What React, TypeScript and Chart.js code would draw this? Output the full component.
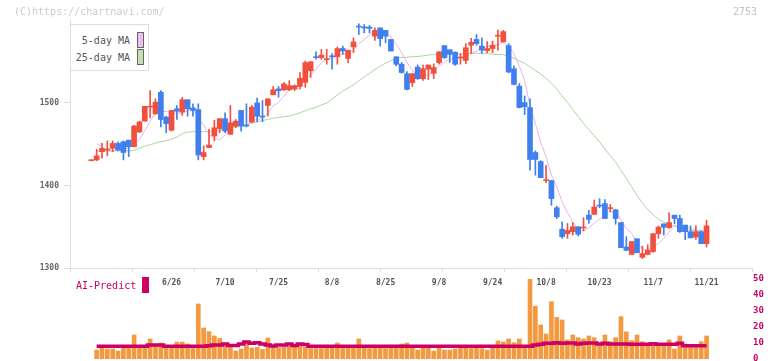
import React, { useEffect, useRef } from 'react';
import { Chart, registerables } from 'chart.js';
Chart.register(...registerables);

// ---- categories (trading days, 2025) ----
const dates = [
  '6/5','6/6','6/9','6/10','6/11','6/12','6/13','6/16','6/17','6/18','6/19','6/20','6/23','6/24','6/25','6/26','6/27','6/30',
  '7/1','7/2','7/3','7/4','7/7','7/8','7/9','7/10','7/11','7/14','7/15','7/16','7/17','7/18','7/22','7/23','7/24','7/25','7/28','7/29','7/30','7/31',
  '8/1','8/4','8/5','8/6','8/7','8/8','8/12','8/13','8/14','8/15','8/18','8/19','8/20','8/21','8/22','8/25','8/26','8/27','8/28','8/29',
  '9/1','9/2','9/3','9/4','9/5','9/8','9/9','9/10','9/11','9/12','9/16','9/17','9/18','9/19','9/22','9/24','9/25','9/26','9/29','9/30',
  '10/1','10/2','10/3','10/6','10/7','10/8','10/9','10/10','10/14','10/15','10/16','10/17','10/20','10/21','10/22','10/23','10/24','10/27','10/28','10/29','10/30','10/31',
  '11/4','11/5','11/6','11/7','11/10','11/11','11/12','11/13','11/14','11/17','11/18','11/19','11/20','11/21',
];

// ---- OHLC ----
const opens = [
  1430, 1431, 1441, 1443, 1445, 1451, 1453, 1455, 1447, 1465,
  1478, 1495, 1487, 1513, 1483, 1467, 1493, 1489, 1504, 1494,
  1492, 1435, 1446, 1460, 1469, 1481, 1462, 1472, 1491, 1473,
  1477, 1500, 1483.5, 1497, 1510, 1517, 1516, 1516, 1517, 1520,
  1525, 1539, 1555.5, 1555, 1552.5, 1557, 1556, 1566, 1554, 1568,
  1592.5, 1592, 1592, 1581, 1591, 1588, 1577, 1556, 1547, 1535.5,
  1524.5, 1543.5, 1529.5, 1541, 1536, 1549, 1569.5, 1564.5, 1561.5, 1554.5,
  1551.5, 1570, 1577, 1569, 1563.5, 1566, 1581, 1574, 1569.5, 1541.5,
  1520.5, 1500.5, 1494.5, 1440, 1429, 1406, 1406, 1373, 1347, 1341.5,
  1344, 1350, 1348.5, 1364, 1365, 1376, 1378, 1372, 1370.5, 1355,
  1325.5, 1316.5, 1335.5, 1313, 1316.5, 1320, 1341.5, 1353.5, 1349, 1364,
  1360, 1352, 1344, 1337.5, 1344, 1329.5,
];
const highs = [
  1431, 1444, 1451, 1454, 1454, 1453, 1454, 1455, 1473, 1478,
  1496, 1515, 1505, 1515, 1484, 1491, 1497, 1507, 1504, 1499,
  1499, 1448, 1468, 1479, 1481, 1488, 1497, 1480, 1491, 1499,
  1497, 1506, 1503, 1505, 1520, 1520, 1525, 1527, 1522, 1537,
  1551, 1550, 1562, 1565, 1565, 1560, 1568, 1569, 1564, 1579,
  1596, 1595, 1594, 1591, 1591, 1588, 1577, 1556, 1549, 1538,
  1535.5, 1546, 1546, 1546, 1547.5, 1562, 1569.5, 1564.5, 1562, 1560,
  1572, 1578.5, 1583, 1579, 1574.5, 1575, 1588.5, 1588, 1572, 1545,
  1523.5, 1508.5, 1505, 1442, 1430, 1424.5, 1406, 1375, 1356, 1354,
  1355, 1350, 1361, 1370, 1382.5, 1384, 1383, 1377, 1371, 1355,
  1338, 1332, 1335.5, 1326.5, 1328, 1342, 1351, 1353.5, 1367, 1364,
  1364, 1352, 1351, 1351, 1345, 1358,
];
const lows = [
  1430, 1430, 1433, 1436, 1441, 1442, 1431, 1435, 1447, 1464,
  1478, 1482, 1486, 1471, 1464, 1466, 1480, 1485, 1484, 1484,
  1431, 1431, 1446, 1454, 1464, 1464, 1462, 1470, 1466, 1471,
  1476, 1477, 1477, 1484, 1510, 1507, 1515, 1515, 1515, 1517,
  1519, 1531, 1553, 1553, 1547, 1541, 1547, 1559, 1549, 1561,
  1583, 1585, 1585, 1576, 1569, 1573, 1563, 1545, 1536, 1516,
  1520, 1528.5, 1527.5, 1528.5, 1529.5, 1547, 1554, 1549, 1545.5, 1547,
  1547.5, 1560, 1570, 1560, 1561, 1561, 1564, 1574, 1536.5, 1522,
  1494, 1486, 1418.5, 1412.5, 1409.5, 1403.5, 1376, 1360, 1336, 1336,
  1340, 1339, 1345, 1354, 1365, 1373, 1360, 1368, 1353, 1324.5,
  1321, 1316.5, 1318.5, 1311.5, 1316, 1319, 1336, 1340, 1348, 1353.5,
  1343, 1334.5, 1336.5, 1334.5, 1329.5, 1325.5,
];
const closes = [
  1431, 1436, 1445, 1444, 1451, 1443, 1440, 1447, 1472, 1477,
  1496, 1496, 1501, 1480, 1475, 1491, 1490, 1504, 1493, 1491,
  1437, 1440, 1449, 1470, 1481, 1466, 1476, 1478, 1472, 1472,
  1495, 1484, 1483, 1505, 1516, 1515, 1523, 1521, 1521, 1530,
  1549, 1550, 1555, 1558, 1553, 1556, 1566, 1563, 1564, 1574,
  1592, 1591, 1590.5, 1588, 1578, 1581, 1563, 1547, 1537, 1516.5,
  1535.5, 1529.5, 1541.5, 1546, 1543, 1562, 1555, 1559, 1547, 1555,
  1567, 1573.5, 1572, 1564, 1566, 1570, 1581.5, 1586.5, 1537.5, 1522.5,
  1494.5, 1495.5, 1431.5, 1431.5, 1409.5, 1406.5, 1384, 1362, 1338, 1345.5,
  1350, 1341, 1349, 1359, 1374, 1375, 1360, 1372.5, 1360, 1324.5,
  1321.5, 1332, 1318.5, 1317.5, 1321.5, 1341.5, 1349.5, 1349.5, 1355, 1360,
  1344, 1344, 1336.5, 1344, 1329.5, 1351,
];

// moving-average values before enough closes are in view
const ma5Head = [null, 1450.6, 1446.2, 1442.5];
const ma25Head = [
  null, 1441.3, 1441.7, 1442.1, 1442.1, 1442.1, 1442.1, 1442.1, 1442.5, 1445.4,
  1447.8, 1449.4, 1451.4, 1453.1, 1454.3, 1456.3, 1458.7, 1462.8, 1464.8, 1465.2,
  1465.2, 1465.2, 1465.2, 1465.6,
];

// ---- volume panel ----
const volumes = [
  null, 5.6, 7.1, 6.25, 6.25, 5, 7.3, 7.3, 15, 7.3,
  7.3, 12.5, 9.2, 10, 8.1, 8.1, 10.6, 10.6, 9.4, 7.3,
  34.4, 19.4, 17.1, 14.4, 12.9, 9.4, 8.75, 5, 6.25, 9,
  6.9, 7.3, 6, 13.1, 8.5, 7.1, 7.5, 7.9, 7.3, 8.5,
  7.3, 6.5, 6.5, 6.5, 7.3, 7.3, 10, 7.3, 7.3, 7.3,
  12.5, 7.3, 6.5, 7.3, 7.3, 6.5, 7.3, 7.3, 9.4, 10,
  7.3, 5.6, 7.3, 7.3, 5, 7.3, 5.6, 5.6, 6.25, 7.3,
  7.3, 6.5, 7.3, 6.5, 5.6, 7.3, 11.3, 10.6, 12.5, 10.2,
  12.5, 7.3, 50, 33, 21.3, 15.6, 35.8, 26, 24.4, 11.9,
  15, 13.3, 12.5, 14.4, 13.3, 9.8, 15, 10.8, 13.3, 26.5,
  17, 11.5, 15, 10.8, 8.75, 9.8, 9.4, 8.1, 11.9, 6.25,
  14.4, 9.4, 8.1, 8.1, 10.8, 14.4,
];
const aiPredict = [
  null, 7.9, 7.9, 7.9, 7.9, 7.9, 7.9, 7.9, 7.9, 7.9,
  7.9, 8.75, 8.75, 8.75, 7.9, 7.9, 7.9, 7.9, 7.9, 7.9,
  7.9, 7.9, 8.3, 8.75, 8.75, 9.4, 8.5, 8.5, 9.4, 10.6,
  9.8, 10.2, 9.4, 8.75, 8.1, 8.75, 8.75, 9.4, 8.5, 9.4,
  9, 7.9, 7.9, 7.9, 7.9, 7.9, 7.9, 7.9, 7.9, 7.9,
  7.9, 7.9, 7.9, 7.9, 7.9, 7.9, 7.9, 7.9, 7.9, 7.9,
  7.9, 7.9, 7.9, 7.9, 7.9, 7.9, 7.9, 7.9, 7.9, 7.9,
  7.9, 7.9, 7.9, 7.9, 7.9, 7.9, 7.9, 7.9, 7.9, 7.9,
  7.9, 7.9, 7.9, 8.75, 9.2, 9.8, 9.8, 10.2, 9.8, 10,
  10, 9.4, 9.8, 10, 10, 9.4, 9.8, 9.4, 9.4, 9.4,
  9.4, 9.2, 9.2, 9.2, 9.2, 9.6, 9.2, 9.2, 9.2, 9.2,
  9.8, 8.3, 8.3, 8.3, 8.3, 8.3,
];

const priceTicks = [1300, 1400, 1500];
const volumeTicks = [0, 10, 20, 30, 40, 50];
const dateLabelIdx = [15, 25, 35, 45, 55, 65, 75, 85, 95, 105, 115];

const X_MIN = -3.98;
const X_MAX = 123.49;
const Y_MIN = 1300;
const Y_MAX = 1600.6;
const UP = '#f2503f';
const DOWN = '#3f7ff0';
const MONO = '"DejaVu Sans Mono", monospace';

// canvas placement (page pixels)
const PRICE_H = 292;          // price canvas 0..292, plot bottom at 268
const VOL_TOP = 262;          // volume canvas top
const VOL_H = 115;            // plot 279..359

function movingAverage(vals: number[], period: number, head: (number | null)[]) {
  return vals.map((_, i) => {
    if (i < period - 1) return head[i];
    let s = 0;
    for (let k = i - period + 1; k <= i; k++) s += vals[k];
    return s / period;
  });
}

export default function App() {
  const priceRef = useRef<HTMLCanvasElement>(null);
  const volRef = useRef<HTMLCanvasElement>(null);

  useEffect(() => {
    const colors = closes.map((c, i) => (c >= opens[i] ? UP : DOWN));
    const ma5 = movingAverage(closes, 5, ma5Head);
    const ma25 = movingAverage(closes, 25, ma25Head);

    const price = new Chart(priceRef.current!, {
      type: 'bar',
      data: {
        datasets: [
          {
            type: 'line',
            data: ma25.map((v, i) => ({ x: i, y: v })),
            borderColor: '#a9d69c',
            borderWidth: 1,
            pointRadius: 0,
            order: 4,
          } as any,
          {
            type: 'line',
            data: ma5.map((v, i) => ({ x: i, y: v })),
            borderColor: '#eab4ea',
            borderWidth: 1,
            pointRadius: 0,
            order: 3,
          } as any,
          {
            type: 'bar',
            data: lows.map((l, i) => ({ x: i, y: [l, highs[i]] })),
            backgroundColor: colors,
            barThickness: 1,
            grouped: false,
            minBarLength: 1,
            order: 2,
          } as any,
          {
            type: 'bar',
            data: opens.map((o, i) => ({ x: i, y: [o, closes[i]] })),
            backgroundColor: colors,
            barThickness: 5,
            grouped: false,
            minBarLength: 1,
            order: 1,
          } as any,
        ],
      },
      options: {
        animation: false,
        responsive: false,
        layout: { padding: { top: 20, right: 20, left: 0, bottom: 0 } },
        plugins: { legend: { display: false }, tooltip: { enabled: false } },
        scales: {
          x: {
            type: 'linear',
            offset: false,
            min: X_MIN,
            max: X_MAX,
            afterBuildTicks: (s: any) => {
              const step = (X_MAX - X_MIN) / 11;
              s.ticks = Array.from({ length: 12 }, (_, k) => ({ value: X_MIN + k * step }));
            },
            afterFit: (s: any) => { s.height = PRICE_H - 268; },
            grid: { drawOnChartArea: false, offset: false, color: '#dddddd', tickLength: 4 },
            border: { color: '#dddddd' },
            ticks: { display: false },
          },
          y: {
            min: Y_MIN,
            max: Y_MAX,
            afterBuildTicks: (s: any) => { s.ticks = priceTicks.map((v) => ({ value: v })); },
            afterFit: (s: any) => { s.width = 70; },
            grid: { drawOnChartArea: false, color: '#dddddd', tickLength: 6 },
            border: { color: '#dddddd' },
            ticks: {
              color: '#666666',
              padding: 5,
              font: { family: MONO, size: 8, weight: 'bold' },
              callback: (v: any) => String(v),
            },
          },
        },
      } as any,
    });

    const dateLabels = {
      id: 'dateLabels',
      afterDraw(chart: any) {
        const ctx = chart.ctx;
        const xs = chart.scales.x;
        ctx.save();
        ctx.font = `bold 8px ${MONO}`;
        ctx.fillStyle = '#555555';
        ctx.textAlign = 'center';
        ctx.textBaseline = 'middle';
        dateLabelIdx.forEach((i) => {
          ctx.fillText(dates[i], xs.getPixelForValue(i), 283 - VOL_TOP);
        });
        ctx.restore();
      },
    };

    const vol = new Chart(volRef.current!, {
      type: 'bar',
      data: {
        datasets: [
          {
            type: 'line',
            data: aiPredict.map((v, i) => ({ x: i, y: v })),
            borderColor: '#cc0066',
            borderWidth: 3.5,
            pointRadius: 0,
            stepped: 'middle',
            order: 0,
          } as any,
          {
            type: 'bar',
            data: volumes.map((v, i) => ({ x: i, y: v })),
            backgroundColor: '#f39a40',
            barThickness: 4,
            order: 1,
          } as any,
        ],
      },
      options: {
        animation: false,
        responsive: false,
        layout: { padding: { top: 279 - VOL_TOP, right: 0, left: 70, bottom: VOL_TOP + VOL_H - 359 } },
        plugins: { legend: { display: false }, tooltip: { enabled: false } },
        scales: {
          x: { type: 'linear', offset: false, min: X_MIN, max: X_MAX, display: false },
          y: {
            position: 'right',
            min: 0,
            max: 50,
            afterBuildTicks: (s: any) => { s.ticks = volumeTicks.map((v) => ({ value: v })); },
            afterFit: (s: any) => { s.width = 20; },
            grid: { display: false, drawTicks: false },
            border: { display: false },
            ticks: {
              color: '#cc0066',
              padding: 1,
              font: { family: MONO, size: 9, weight: 'bold' },
            },
          },
        },
      } as any,
      plugins: [dateLabels],
    });

    return () => {
      price.destroy();
      vol.destroy();
    };
  }, []);

  const mono: React.CSSProperties = { fontFamily: MONO, fontSize: 10, lineHeight: '12px', position: 'absolute', whiteSpace: 'nowrap' };

  return (
    <div style={{ position: 'absolute', left: 0, top: 0, width: 772, height: 361, background: '#ffffff', overflow: 'hidden' }}>
      <canvas ref={volRef} width={772} height={VOL_H} style={{ position: 'absolute', left: 0, top: VOL_TOP }} />
      <canvas ref={priceRef} width={772} height={PRICE_H} style={{ position: 'absolute', left: 0, top: 0 }} />
      <div style={{ ...mono, left: 14, top: 6, color: '#cccccc' }}>(C)https://chartnavi.com/</div>
      <div style={{ ...mono, left: 733, top: 6, color: '#c4c4c4' }}>2753</div>
      <div style={{ position: 'absolute', left: 70, top: 24, width: 79, height: 47, boxSizing: 'border-box', border: '1px solid #dddddd', background: '#ffffff' }}>
        <div style={{ ...mono, right: 18, top: 10, color: '#555555' }}>5-day MA</div>
        <div style={{ ...mono, right: 18, top: 27, color: '#555555' }}>25-day MA</div>
        <div style={{ position: 'absolute', left: 66, top: 7, width: 7, height: 16, boxSizing: 'border-box', border: '1.5px solid #666666', background: '#efc0ef' }} />
        <div style={{ position: 'absolute', left: 66, top: 24, width: 7, height: 16, boxSizing: 'border-box', border: '1.5px solid #666666', background: '#c0e0b0' }} />
      </div>
      <div style={{ ...mono, left: 76, top: 280, color: '#cc0066' }}>AI-Predict</div>
      <div style={{ position: 'absolute', left: 142, top: 277, width: 7, height: 16, background: '#cc0066' }} />
    </div>
  );
}
